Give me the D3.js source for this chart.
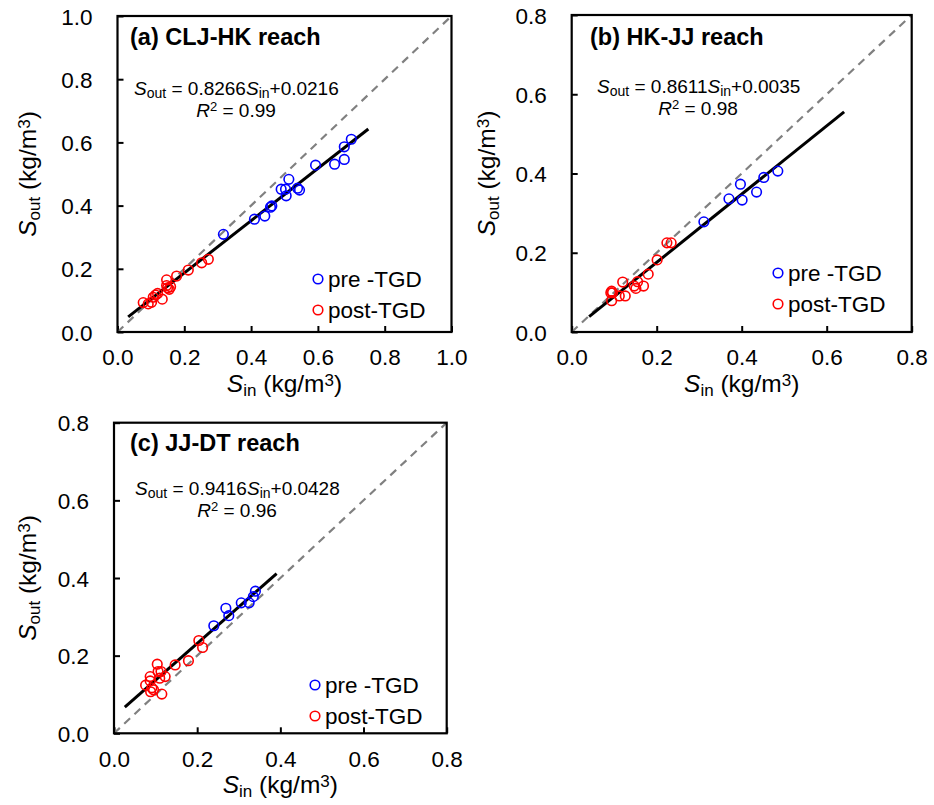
<!DOCTYPE html>
<html><head><meta charset="utf-8">
<script src="https://cdn.jsdelivr.net/npm/d3@7"></script>
<style>body{margin:0;background:#fff}svg{display:block}text{font-family:"Liberation Sans",Arial,sans-serif}</style>
</head><body>
<svg id="c" width="934" height="805"></svg>
<script>
// ---- data ----
const legendLabels = ["pre -TGD", "post-TGD"];
const titles = ["(a) CLJ-HK reach", "(b) HK-JJ reach", "(c) JJ-DT reach"];
const slopes = [0.8266, 0.8611, 0.9416];
const intercepts = [0.0216, 0.0035, 0.0428];
const r2 = ["0.99", "0.98", "0.96"];
const fitRangeA = [0.032, 0.751];
const fitRangeB = [0.041, 0.641];
const fitRangeC = [0.026, 0.391];
const ticksA = [0.0, 0.2, 0.4, 0.6, 0.8, 1.0];
const ticksBC = [0.0, 0.2, 0.4, 0.6, 0.8];

const aPreIn  = [0.317,0.410,0.441,0.458,0.462,0.490,0.503,0.513,0.505,0.539,0.545,0.593,0.650,0.679,0.679,0.700];
const aPreOut = [0.309,0.357,0.367,0.395,0.399,0.452,0.452,0.483,0.431,0.455,0.449,0.528,0.531,0.546,0.586,0.610];
const aPostIn  = [0.077,0.092,0.102,0.107,0.120,0.134,0.147,0.147,0.155,0.159,0.177,0.212,0.252,0.272,0.114,0.150];
const aPostOut = [0.093,0.089,0.094,0.110,0.122,0.104,0.165,0.147,0.135,0.143,0.177,0.196,0.219,0.230,0.117,0.140];

const bPreIn  = [0.311,0.370,0.397,0.401,0.435,0.452,0.485];
const bPreOut = [0.278,0.336,0.373,0.333,0.353,0.390,0.406];
const bPostIn  = [0.224,0.234,0.201,0.180,0.169,0.155,0.147,0.151,0.120,0.126,0.112,0.094,0.096,0.094,0.092];
const bPostOut = [0.225,0.225,0.182,0.146,0.116,0.127,0.116,0.110,0.126,0.091,0.091,0.103,0.099,0.079,0.099];

const cPreIn  = [0.240,0.269,0.276,0.306,0.325,0.335,0.340];
const cPreOut = [0.277,0.322,0.303,0.336,0.336,0.352,0.366];
const cPostIn  = [0.204,0.213,0.179,0.147,0.123,0.113,0.104,0.106,0.110,0.087,0.087,0.076,0.091,0.088,0.095,0.115];
const cPostOut = [0.239,0.221,0.187,0.176,0.146,0.159,0.178,0.159,0.142,0.146,0.135,0.124,0.117,0.107,0.112,0.101];

const panels = [
  {x0:117.5, x1:451.5, y0:332, y1:16, max:1.0, ticks:ticksA, fit:fitRangeA,
   preIn:aPreIn, preOut:aPreOut, postIn:aPostIn, postOut:aPostOut,
   title:[130,45], eq:[134,95], r2:[236,117], leg:[318,279], ytitleX:28, xtitleY:392},
  {x0:571.7, x1:911.7, y0:332, y1:15, max:0.8, ticks:ticksBC, fit:fitRangeB,
   preIn:bPreIn, preOut:bPreOut, postIn:bPostIn, postOut:bPostOut,
   title:[590,45], eq:[597,93], r2:[698,115], leg:[778,273], ytitleX:487, xtitleY:392},
  {x0:114, x1:446.7, y0:733.3, y1:422.7, max:0.8, ticks:ticksBC, fit:fitRangeC,
   preIn:cPreIn, preOut:cPreOut, postIn:cPostIn, postOut:cPostOut,
   title:[130,451], eq:[135,495], r2:[237,517], leg:[315,685], ytitleX:28, xtitleY:793}
];

const svg = d3.select("#c");
const fmt = d3.format(".1f");

panels.forEach((p, i) => {
  const x = d3.scaleLinear().domain([0, p.max]).range([p.x0, p.x1]);
  const y = d3.scaleLinear().domain([0, p.max]).range([p.y0, p.y1]);
  const g = svg.append("g");

  // axes (ticks inward)
  const ax = g.append("g").attr("transform", `translate(0,${p.y0})`)
    .call(d3.axisBottom(x).tickValues(p.ticks).tickFormat(fmt).tickSizeInner(-6).tickSizeOuter(0).tickPadding(15));
  const ay = g.append("g").attr("transform", `translate(${p.x0},0)`)
    .call(d3.axisLeft(y).tickValues(p.ticks).tickFormat(fmt).tickSizeInner(-6).tickSizeOuter(0).tickPadding(25));
  [ax, ay].forEach(a => {
    a.select(".domain").remove();
    a.selectAll(".tick line").attr("stroke", "#000").attr("stroke-width", 2);
    a.selectAll(".tick text").attr("font-size", 22.5).attr("fill", "#000")
      .attr("font-family", '"Liberation Sans",Arial,sans-serif');
  });
  ay.selectAll(".tick text").attr("dy", "0.36em");
  ax.selectAll(".tick text").attr("dy", "0.82em");

  // diagonal 1:1
  g.append("line").attr("x1", x(0)).attr("y1", y(0)).attr("x2", x(p.max)).attr("y2", y(p.max))
    .attr("stroke", "#808080").attr("stroke-width", 2.2).attr("stroke-dasharray", "8,6");

  // regression line
  const line = d3.line().x(d => x(d)).y(d => y(slopes[i] * d + intercepts[i]));
  g.append("path").datum(p.fit).attr("d", line).attr("stroke", "#000").attr("stroke-width", 3).attr("fill", "none");

  // points
  const pre = p.preIn.map((v, k) => [v, p.preOut[k]]);
  const post = p.postIn.map((v, k) => [v, p.postOut[k]]);
  g.selectAll(".pre").data(pre).enter().append("circle")
    .attr("cx", d => x(d[0])).attr("cy", d => y(d[1])).attr("r", 4.8)
    .attr("fill", "none").attr("stroke", "#0000ff").attr("stroke-width", 1.6);
  g.selectAll(".post").data(post).enter().append("circle")
    .attr("cx", d => x(d[0])).attr("cy", d => y(d[1])).attr("r", 4.8)
    .attr("fill", "none").attr("stroke", "#ff0000").attr("stroke-width", 1.6);

  // frame
  g.append("rect").attr("x", p.x0).attr("y", p.y1).attr("width", p.x1 - p.x0).attr("height", p.y0 - p.y1)
    .attr("fill", "none").attr("stroke", "#000").attr("stroke-width", 2.2);

  // title
  g.append("text").attr("x", p.title[0]).attr("y", p.title[1]).attr("font-size", 23.5)
    .attr("font-weight", "bold").text(titles[i]);

  // equation
  const eq = g.append("text").attr("x", p.eq[0]).attr("y", p.eq[1]).attr("font-size", 19);
  eq.append("tspan").attr("font-style", "italic").text("S");
  eq.append("tspan").attr("font-size", 14).attr("dy", 3).text("out");
  eq.append("tspan").attr("dy", -3).text(" = " + slopes[i].toFixed(4));
  eq.append("tspan").attr("font-style", "italic").text("S");
  eq.append("tspan").attr("font-size", 14).attr("dy", 3).text("in");
  eq.append("tspan").attr("dy", -3).text("+" + intercepts[i].toFixed(4));

  const rt = g.append("text").attr("x", p.r2[0]).attr("y", p.r2[1]).attr("font-size", 19).attr("text-anchor", "middle");
  rt.append("tspan").attr("font-style", "italic").text("R");
  rt.append("tspan").attr("font-size", 13).attr("dy", -6).text("2");
  rt.append("tspan").attr("dy", 6).text(" = " + r2[i]);

  // legend
  const colors = ["#0000ff", "#ff0000"];
  legendLabels.forEach((lab, k) => {
    const ly = p.leg[1] + k * 31;
    g.append("circle").attr("cx", p.leg[0]).attr("cy", ly).attr("r", 4.8)
      .attr("fill", "none").attr("stroke", colors[k]).attr("stroke-width", 1.6);
    g.append("text").attr("x", p.leg[0] + 10).attr("y", ly + 8).attr("font-size", 22.5).text(lab);
  });

  // axis titles
  const xt = g.append("text").attr("x", (p.x0 + p.x1) / 2).attr("y", p.xtitleY)
    .attr("font-size", 24.5).attr("text-anchor", "middle");
  xt.append("tspan").attr("font-style", "italic").text("S");
  xt.append("tspan").attr("font-size", 17).attr("dy", 4).text("in");
  xt.append("tspan").attr("dy", -4).text(" (kg/m");
  xt.append("tspan").attr("font-size", 17).attr("dy", -6).text("3");
  xt.append("tspan").attr("dy", 6).text(")");

  const cy = (p.y0 + p.y1) / 2;
  const yt = g.append("text").attr("transform", `translate(${p.ytitleX + 8},${cy}) rotate(-90)`)
    .attr("font-size", 24.5).attr("text-anchor", "middle");
  yt.append("tspan").attr("font-style", "italic").text("S");
  yt.append("tspan").attr("font-size", 17).attr("dy", 4).text("out");
  yt.append("tspan").attr("dy", -4).text(" (kg/m");
  yt.append("tspan").attr("font-size", 17).attr("dy", -6).text("3");
  yt.append("tspan").attr("dy", 6).text(")");
});
</script>
</body></html>
